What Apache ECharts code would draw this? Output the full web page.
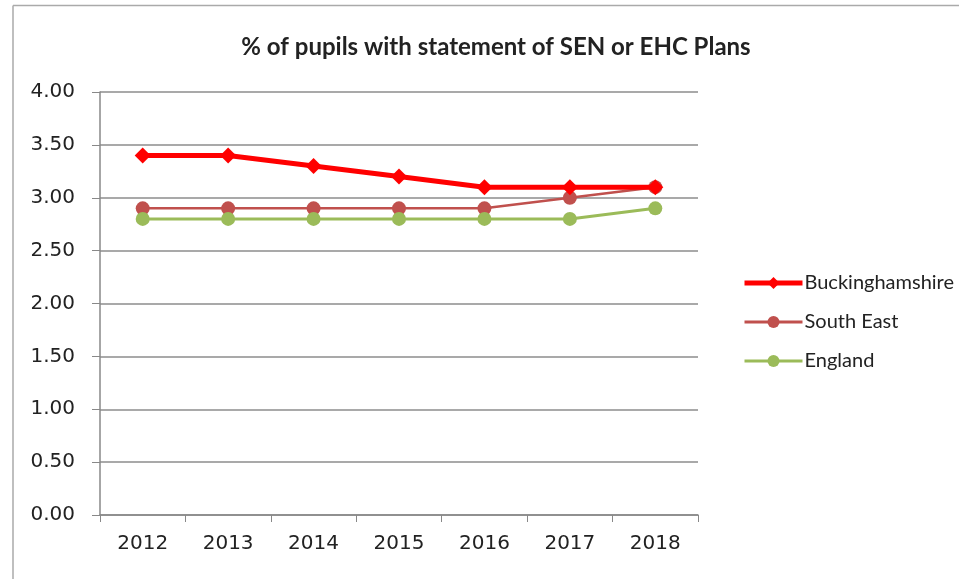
<!DOCTYPE html>
<html><head><meta charset="utf-8">
<script src="https://cdn.jsdelivr.net/npm/echarts@6/dist/echarts.min.js"></script>
<style>html,body{margin:0;padding:0;background:#fff}#c{width:959px;height:579px}</style>
</head><body><div id="c"></div>
<script>
const years = ['2012','2013','2014','2015','2016','2017','2018'];
const buckinghamshire = [3.4, 3.4, 3.3, 3.2, 3.1, 3.1, 3.1];
const southEast = [2.9, 2.9, 2.9, 2.9, 2.9, 3.0, 3.1];
const england = [2.8, 2.8, 2.8, 2.8, 2.8, 2.8, 2.9];
const chartTitle = '% of pupils with statement of SEN or EHC Plans';

const font = 'Lato, "Open Sans", sans-serif';
const axisFont = '"DejaVu Sans", Verdana, sans-serif';
const chart = echarts.init(document.getElementById('c'));
chart.setOption({
  backgroundColor: '#fff',
  animation: false,
  graphic: [
    {type: 'line', shape: {x1: 13, y1: 5.5, x2: 959, y2: 5.5}, style: {stroke: '#aaa', lineWidth: 1.5}},
    {type: 'line', shape: {x1: 13, y1: 5.5, x2: 13, y2: 579}, style: {stroke: '#aaa', lineWidth: 1.5}}
  ],
  title: {
    text: chartTitle, left: 491, top: 30, textAlign: 'center',
    textStyle: {fontFamily: font, fontSize: 24, fontWeight: 'bold', color: '#222'}
  },
  grid: {left: 100, right: 261, top: 92, bottom: 64},
  legend: {
    orient: 'vertical', left: 737, top: 268, itemGap: 19,
    itemWidth: 58, itemHeight: 15,
    textStyle: {fontFamily: font, fontSize: 20, color: '#222', padding: [0, 0, 0, -3]},
    data: [
      {name: 'Buckinghamshire', lineStyle: {width: 5}},
      {name: 'South East', lineStyle: {width: 3}},
      {name: 'England', lineStyle: {width: 3}}
    ]
  },
  xAxis: {
    type: 'category', data: years, boundaryGap: true,
    axisLine: {lineStyle: {color: '#888', width: 1.5}},
    axisTick: {show: true, length: 7, lineStyle: {color: '#888'}},
    axisLabel: {fontFamily: axisFont, fontSize: 20, color: '#222', margin: 19}
  },
  yAxis: {
    type: 'value', min: 0, max: 4, interval: 0.5,
    axisLine: {show: true, lineStyle: {color: '#888', width: 1.5}},
    axisTick: {show: true, length: 8, lineStyle: {color: '#888'}},
    splitLine: {lineStyle: {color: '#8c8c8c', width: 1.5}},
    axisLabel: {fontFamily: axisFont, fontSize: 20, color: '#222', margin: 25,
      formatter: v => v.toFixed(2)}
  },
  series: [
    {name: 'Buckinghamshire', type: 'line', data: buckinghamshire,
     symbol: 'diamond', symbolSize: 16, z: 3,
     lineStyle: {color: '#ff0000', width: 5}, itemStyle: {color: '#ff0000'}},
    {name: 'South East', type: 'line', data: southEast,
     symbol: 'circle', symbolSize: 14, z: 2,
     lineStyle: {color: '#c0504d', width: 2.5}, itemStyle: {color: '#c0504d'}},
    {name: 'England', type: 'line', data: england,
     symbol: 'circle', symbolSize: 14, z: 2,
     lineStyle: {color: '#9bbb59', width: 3}, itemStyle: {color: '#9bbb59'}}
  ]
});
</script></body></html>
